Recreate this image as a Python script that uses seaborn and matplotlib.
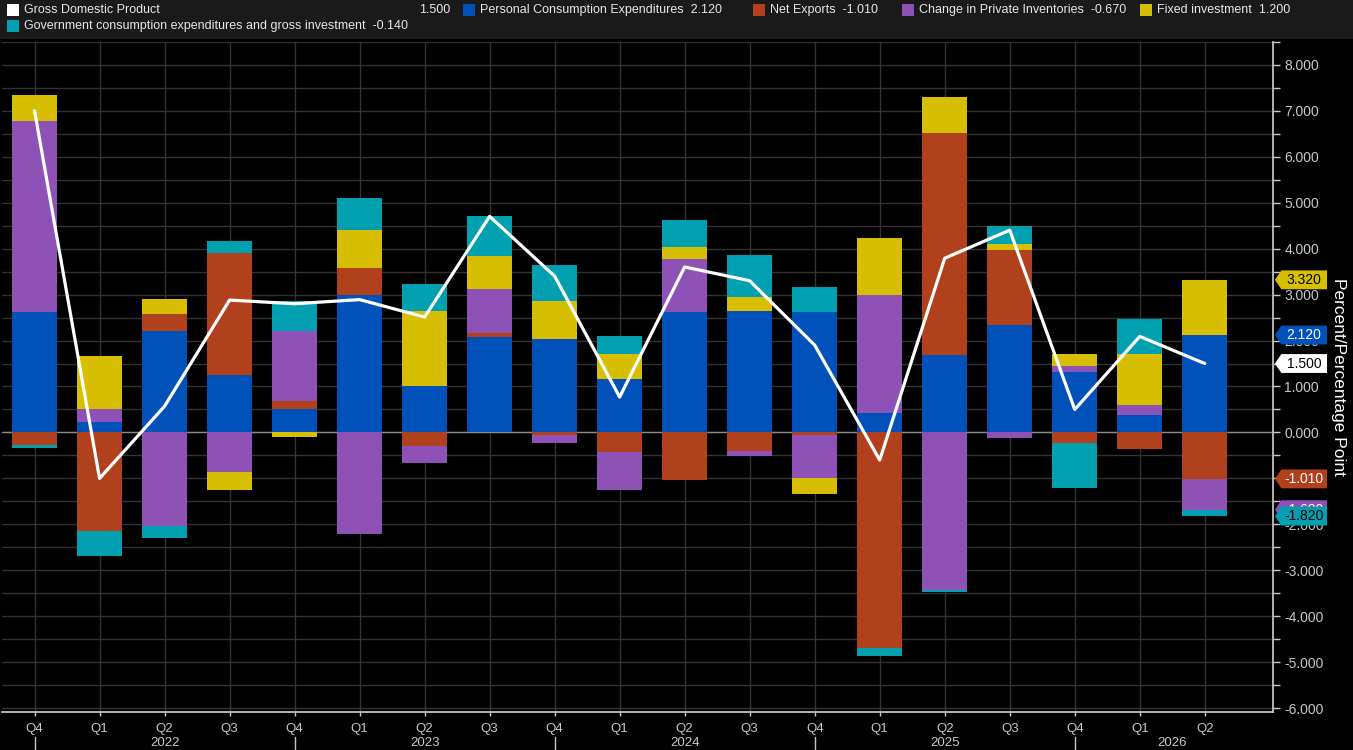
import numpy as np
import pandas as pd
import seaborn as sns
import matplotlib.pyplot as plt
from matplotlib.patches import Polygon, Rectangle

# quarterly contributions to GDP growth, percentage points
quarters = ["Q4", "Q1", "Q2", "Q3", "Q4", "Q1", "Q2", "Q3", "Q4", "Q1",
            "Q2", "Q3", "Q4", "Q1", "Q2", "Q3", "Q4", "Q1", "Q2"]
years = ["2022", "2023", "2024", "2025", "2026"]
pce = [2.63, 0.22, 2.20, 1.26, 0.52, 2.98, 1.02, 2.07, 2.04, 1.17,
       2.61, 2.65, 2.61, 0.42, 1.69, 2.33, 1.31, 0.38, 2.12]
net_exports = [-0.28, -2.14, 0.37, 2.64, 0.16, 0.59, -0.30, 0.10, -0.05, -0.43,
               -1.04, -0.41, -0.05, -4.68, 4.83, 1.63, -0.23, -0.36, -1.01]
inventories = [4.15, 0.30, -2.04, -0.87, 1.52, -2.20, -0.37, 0.96, -0.19, -0.82,
               1.17, -0.11, -0.93, 2.58, -3.42, -0.12, 0.13, 0.21, -0.67]
fixed_inv = [0.57, 1.15, 0.34, -0.38, -0.10, 0.84, 1.63, 0.70, 0.81, 0.53,
             0.26, 0.29, -0.35, 1.22, 0.77, 0.15, 0.26, 1.11, 1.20]
government = [-0.05, -0.55, -0.26, 0.27, 0.67, 0.70, 0.57, 0.87, 0.80, 0.39,
              0.59, 0.91, 0.56, -0.18, -0.05, 0.39, -0.98, 0.76, -0.14]
gdp = [7.00, -1.00, 0.57, 2.88, 2.80, 2.89, 2.51, 4.70, 3.40, 0.77,
       3.60, 3.30, 1.90, -0.60, 3.79, 4.40, 0.50, 2.09, 1.50]

series = [
    ("Personal Consumption Expenditures", pce, "#0052BA", "white"),
    ("Net Exports", net_exports, "#B1401D", "white"),
    ("Change in Private Inventories", inventories, "#8E51B5", "white"),
    ("Fixed investment", fixed_inv, "#D7BE00", "black"),
    ("Government consumption expenditures and gross investment", government, "#00A0B0", "black"),
]

sns.set_theme(style="dark", rc={
    "figure.facecolor": "black", "axes.facecolor": "black",
    "axes.edgecolor": "#c8c8c8", "grid.color": "#333333",
    "text.color": "white", "xtick.color": "#c8c8c8", "ytick.color": "#c8c8c8",
})
plt.rcParams["font.family"] = ["Liberation Sans", "DejaVu Sans"]

fig = plt.figure(figsize=(13.53, 7.5), dpi=100)
ax = fig.add_axes([0.0015, 0.0507, 0.9394, 0.8937])

df = pd.DataFrame({"quarter": quarters, "gdp": gdp})
df["pos"] = np.arange(len(df))
x = df["pos"].values

pos_base = np.zeros(len(x))
neg_base = np.zeros(len(x))
tag_y = []
for name, vals, color, tcol in series:
    v = np.array(vals)
    bottom = np.where(v >= 0, pos_base, neg_base)
    ax.bar(x, v, bottom=bottom, width=0.69, color=color, linewidth=0, zorder=2)
    pos_base = pos_base + np.where(v >= 0, v, 0)
    neg_base = neg_base + np.where(v < 0, v, 0)
    tag_y.append((bottom[-1] + v[-1], color, tcol))

sns.lineplot(data=df, x="pos", y="gdp", color="white", linewidth=2.3,
             ax=ax, zorder=3)

ax.axhline(0, color="#8a8a8a", lw=1, zorder=1.5)
ax.set_xlim(-0.5, 19.05)
ax.set_ylim(-6.08, 8.5)

ax.yaxis.tick_right()
ax.yaxis.set_label_position("right")
ax.set_yticks(np.arange(-6, 9, 1))
ax.set_yticks(np.arange(-5.5, 8.6, 1), minor=True)
ax.set_yticklabels([f"{t:.3f}" for t in np.arange(-6, 9, 1)], fontsize=10)
ax.tick_params(axis="y", which="both", direction="out", length=5, width=1, pad=3, right=True, left=False)
ax.set_xticks(x)
ax.set_xticklabels(quarters, fontsize=9.5)
ax.tick_params(axis="x", direction="out", length=3, width=1, pad=5, bottom=True)
ax.grid(True, which="both", axis="y", color="#333333", lw=1, zorder=0)
ax.grid(True, which="major", axis="x", color="#333333", lw=1, zorder=0)
ax.set_xlabel("")
ax.set_ylabel("Percent/Percentage Point", rotation=270, labelpad=16,
              fontsize=12.5, color="white")

for side in ["top", "left"]:
    ax.spines[side].set_visible(False)
ax.spines["right"].set_color("#c8c8c8")
ax.spines["bottom"].set_color("#c8c8c8")

# year separators and labels under the quarters
xt = ax.get_xaxis_transform()
for i in range(0, len(x), 4):
    ax.plot([i, i], [-0.038, -0.06], transform=xt, color="#c8c8c8", lw=1, clip_on=False)
for k, yr in enumerate(years):
    cx = 2 + 4 * k if k < 4 else 17.5
    ax.text(cx, -0.046, yr, transform=xt, ha="center", va="center",
            fontsize=9.5, color="#c8c8c8")

# value tags on the right axis, later tags drawn over earlier ones
yt = ax.get_yaxis_transform()
tags = [tag_y[3], tag_y[0], (gdp[-1], "white", "black"), tag_y[1], tag_y[2], tag_y[4]]
h = 0.205
for n, (val, color, tcol) in enumerate(tags):
    pts = [(1.0015, val), (1.0065, val + h), (1.0425, val + h),
           (1.0425, val - h), (1.0065, val - h)]
    ax.add_patch(Polygon(pts, closed=True, transform=yt, facecolor=color,
                         edgecolor="none", clip_on=False, zorder=5 + 2 * n))
    ax.text(1.0245, val, f"{val:.3f}", transform=yt, ha="center", va="center",
            fontsize=10, color=tcol, zorder=6 + 2 * n, clip_on=False)

# legend strip at the top
fig.patches.append(Rectangle((0, 1 - 39 / 750), 1, 39 / 750, transform=fig.transFigure,
                             facecolor="#1a1a1a", edgecolor="none", zorder=0))


def legend_item(px, py, color, text):
    fig.patches.append(Rectangle((px / 1353, 1 - (py + 6) / 750), 12 / 1353, 12 / 750,
                                 transform=fig.transFigure, facecolor=color,
                                 edgecolor="none"))
    fig.text((px + 17) / 1353, 1 - py / 750, text, ha="left", va="center",
             fontsize=9, color="#e6e6e6")


legend_item(7, 10, "white", "Gross Domestic Product")
fig.text(450 / 1353, 1 - 10 / 750, f"{gdp[-1]:.3f}", ha="right", va="center",
         fontsize=9, color="#e6e6e6")
lx = [463, 753, 902, 1140]
for (name, vals, color, _), px in zip(series[:4], lx):
    legend_item(px, 10, color, f"{name}  {vals[-1]:.3f}")
legend_item(7, 26, series[4][2], f"{series[4][0]}  {series[4][1][-1]:.3f}")

fig.savefig("out.png", dpi=100, facecolor="black")
